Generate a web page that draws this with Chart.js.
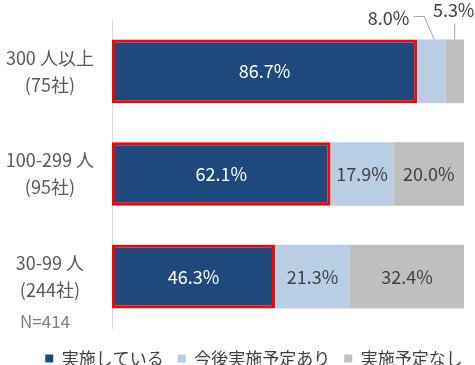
<!DOCTYPE html>
<html>
<head>
<meta charset="utf-8">
<script src="https://cdn.jsdelivr.net/npm/chart.js@4.4.1/dist/chart.umd.min.js"></script>
<style>
  html, body { margin: 0; padding: 0; background: #fff; }
  #wrap { width: 475px; height: 365px; }
</style>
</head>
<body>
<div id="wrap"><canvas id="chart"></canvas></div>
<script>
// categories (company size) and the three answer series, in %
const categories = [['300 人以上', '(75社)'], ['100-299 人', '(95社)'], ['30-99 人', '(244社)']];
const seriesNames = ['実施している', '今後実施予定あり', '実施予定なし'];
const implemented = [86.7, 62.1, 46.3];
const planned = [8.0, 17.9, 21.3];
const notPlanned = [5.3, 20.0, 32.4];
const sampleNote = 'N=414';

const FONT = '"Noto Sans CJK JP", "Noto Sans", sans-serif';

// draws the % labels; the first row's two small segments get callout lines
const valueLabels = {
    id: 'valueLabels',
    afterLayout(chart) {
        // the legend row sits a bit right of centre in the original
        chart.legend.left += 22;
        chart.legend.right += 22;
    },
    afterDatasetsDraw(chart) {
        const ctx = chart.ctx;
        ctx.save();
        ctx.font = '18px ' + FONT;
        ctx.textBaseline = 'middle';
        chart.data.datasets.forEach(function (ds, di) {
            const meta = chart.getDatasetMeta(di);
            meta.data.forEach(function (bar, i) {
                const txt = ds.data[i].toFixed(1) + '%';
                const left = Math.min(bar.x, bar.base);
                const right = Math.max(bar.x, bar.base);
                const cx = (left + right) / 2;
                const top = bar.y - bar.height / 2;
                if (i === 0 && di > 0) {
                    ctx.strokeStyle = '#a6a6a6';
                    ctx.lineWidth = 1;
                    ctx.fillStyle = '#404040';
                    ctx.beginPath();
                    if (di === 1) {
                        ctx.moveTo(cx + 3, top);
                        ctx.lineTo(cx - 7, top - 23);
                        ctx.lineTo(cx - 17, top - 23);
                        ctx.stroke();
                        ctx.textAlign = 'right';
                        ctx.fillText(txt, cx - 22, top - 21);
                    } else {
                        ctx.moveTo(cx, top);
                        ctx.lineTo(cx, top - 16);
                        ctx.stroke();
                        ctx.textAlign = 'center';
                        ctx.fillText(txt, cx - 1, top - 29);
                    }
                } else {
                    ctx.fillStyle = di === 0 ? '#ffffff' : '#404040';
                    ctx.textAlign = 'center';
                    ctx.fillText(txt, cx, bar.y);
                }
            });
        });
        // sample size note under the last category label
        ctx.font = '17px ' + FONT;
        ctx.fillStyle = '#7f7f7f';
        ctx.textAlign = 'left';
        ctx.fillText(sampleNote, 20, chart.chartArea.bottom - 6);
        ctx.restore();
    }
};

new Chart(document.getElementById('chart'), {
    type: 'bar',
    data: {
        labels: categories,
        datasets: [{
            label: seriesNames[0],
            data: implemented,
            backgroundColor: '#1f497d',
            borderColor: '#ff0000',
            borderWidth: 3,
            borderSkipped: false
        }, {
            label: seriesNames[1],
            data: planned,
            backgroundColor: '#b9cde5',
            borderWidth: 0
        }, {
            label: seriesNames[2],
            data: notPlanned,
            backgroundColor: '#bfbfbf',
            borderWidth: 0
        }]
    },
    options: {
        indexAxis: 'y',
        responsive: true,
        maintainAspectRatio: false,
        animation: false,
        datasets: {
            bar: { categoryPercentage: 0.62, barPercentage: 1 }
        },
        layout: { padding: { top: 20, right: 11, left: 0, bottom: -12 } },
        scales: {
            x: { stacked: true, min: 0, max: 100, display: false },
            y: {
                stacked: true,
                afterFit: function (scale) {
                    scale.width = 112;
                    scale.paddingTop = 0;
                    scale.paddingBottom = 0;
                },
                grid: { display: false },
                border: { display: true, color: '#d9d9d9', width: 1 },
                ticks: {
                    crossAlign: 'center',
                    padding: 10,
                    color: '#595959',
                    font: { family: FONT, size: 18, lineHeight: 1.5 }
                }
            }
        },
        plugins: {
            tooltip: { enabled: false },
            legend: {
                position: 'bottom',
                // empty title only adds a little space above the legend row
                title: { display: true, text: '', padding: 0, font: { size: 8, lineHeight: 1 } },
                labels: {
                    boxWidth: 8,
                    boxHeight: 8,
                    padding: 14,
                    color: '#404040',
                    font: { family: FONT, size: 17 },
                    generateLabels: function (chart) {
                        const items = Chart.defaults.plugins.legend.labels.generateLabels(chart);
                        items.forEach(function (it) { it.lineWidth = 0; it.strokeStyle = it.fillStyle; });
                        return items;
                    }
                }
            }
        }
    },
    plugins: [valueLabels]
});
</script>
</body>
</html>
